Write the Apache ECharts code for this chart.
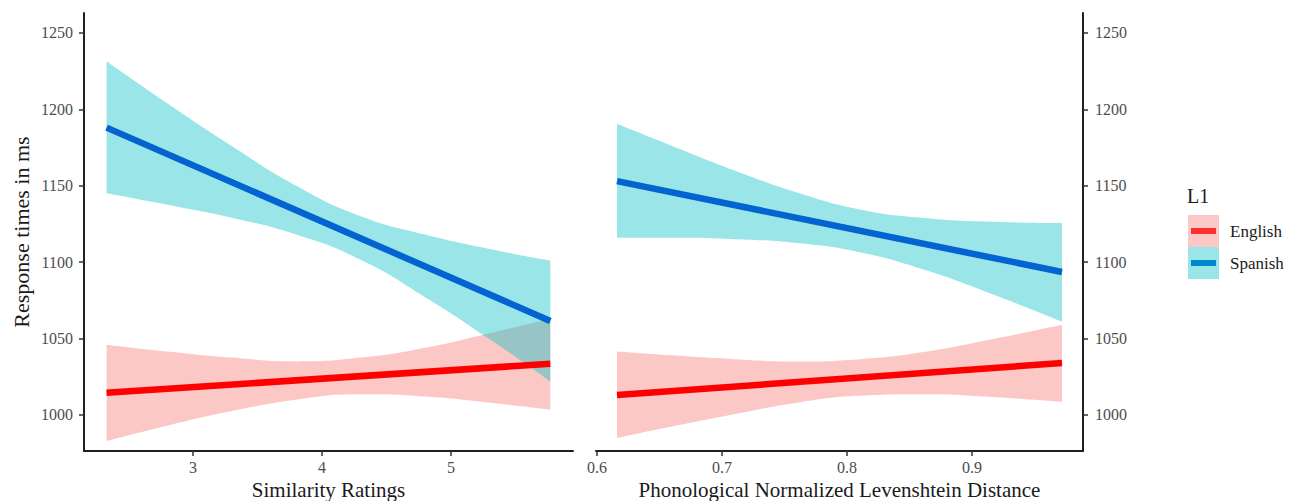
<!DOCTYPE html>
<html><head><meta charset="utf-8">
<script src="https://cdn.jsdelivr.net/npm/echarts@6/dist/echarts.min.js"></script>
<style>html,body{margin:0;padding:0;background:#fff}#c{width:1289px;height:501px}</style>
</head><body><div id="c"></div>
<script>
// ---- Data ----
const groups = ['English', 'Spanish'];
const yTicks = [1000, 1050, 1100, 1150, 1200, 1250];
const simTicks = [3, 4, 5];
const levTicks = [0.6, 0.7, 0.8, 0.9];

// Panel 1: Similarity Ratings
const simX = [2.33, 2.8, 3.3, 3.8, 4.3, 4.8, 5.3, 5.77];
const simFitX = [2.33, 5.77];
const spanishSimFit = [1188, 1061.5];
const spanishSimLower = [1145, 1137.5, 1129, 1118, 1101.5, 1077, 1049.5, 1022];
const spanishSimUpper = [1231.5, 1204, 1176, 1150, 1130, 1118, 1108.5, 1101];
const englishSimFit = [1014.5, 1033.5];
const englishSimLower = [983, 993, 1002.5, 1010, 1013.5, 1012, 1008, 1003.5];
const englishSimUpper = [1046, 1041.5, 1037.5, 1035, 1037.5, 1044, 1053.5, 1063];

// Panel 2: Phonological Normalized Levenshtein Distance
const levX = [0.616, 0.66, 0.71, 0.76, 0.81, 0.86, 0.91, 0.972];
const levFitX = [0.616, 0.972];
const spanishLevFit = [1153, 1093.5];
const spanishLevLower = [1116, 1116, 1115, 1112.5, 1106.5, 1095.5, 1081, 1061];
const spanishLevUpper = [1190.5, 1176, 1160, 1145.5, 1134.5, 1129, 1126.5, 1125.5];
const englishLevFit = [1013, 1034];
const englishLevLower = [985, 992.5, 1000.5, 1008, 1012.5, 1013.5, 1012, 1008.5];
const englishLevUpper = [1041.5, 1039, 1036.5, 1035, 1036.5, 1041, 1048.5, 1059];

// ---- Styles ----
const FONT = 'Liberation Serif';
const bandColor = {English: 'rgba(248,118,109,0.4)', Spanish: 'rgba(0,191,196,0.4)'};
const lineColor = {English: '#ff0000', Spanish: '#0263d1'};

function pairs(xs, ys) { return xs.map((x, i) => [x, ys[i]]); }
// value first, x second, so the stacked dimension is the y value
function vpairs(xs, ys) { return xs.map((x, i) => [ys[i], x]); }

function band(name, xs, lo, hi, xi, stackId) {
  return [
    {name, type: 'line', xAxisIndex: xi, yAxisIndex: xi, stack: stackId, data: vpairs(xs, lo),
     encode: {x: 1, y: 0},
     symbol: 'none', smooth: true, lineStyle: {opacity: 0}, silent: true, legendHoverLink: false},
    {name, type: 'line', xAxisIndex: xi, yAxisIndex: xi, stack: stackId,
     data: vpairs(xs, hi.map((v, i) => v - lo[i])), encode: {x: 1, y: 0},
     symbol: 'none', smooth: true, lineStyle: {opacity: 0},
     areaStyle: {color: bandColor[name], opacity: 1}, silent: true, legendHoverLink: false}
  ];
}
function fit(name, xs, ys, xi) {
  return {name, type: 'line', xAxisIndex: xi, yAxisIndex: xi, data: pairs(xs, ys),
    symbol: 'none', lineStyle: {color: lineColor[name], width: 6.5, cap: 'butt'}, silent: true};
}

const tickLabel = {color: '#4d4d4d', fontFamily: FONT, fontSize: 16};
const axisLine = {show: true, onZero: false, lineStyle: {color: '#1f1f1f', width: 2}};
const axisTickStyle = {color: '#333', width: 1.5};
const nameStyle = {color: '#1a1a1a', fontFamily: FONT, fontSize: 21};

const chart = echarts.init(document.getElementById('c'), null, {renderer: 'svg'});
chart.setOption({
  animation: false,
  backgroundColor: '#fff',
  title: {text: 'L1', left: 1187, top: 186, padding: 0,
    textStyle: {fontFamily: FONT, fontSize: 20, fontWeight: 'normal', color: '#1a1a1a'}},
  legend: {
    orient: 'vertical', left: 1188, top: 215, padding: 0, itemWidth: 31, itemHeight: 32, itemGap: 0,
    icon: 'rect', selectedMode: false,
    textStyle: {fontFamily: FONT, fontSize: 17, color: '#1a1a1a', padding: [0, 0, 0, 6]},
    data: groups.map(g => ({name: g, itemStyle: {color: bandColor[g], borderWidth: 0}}))
  },
  graphic: groups.map((g, i) => ({type: 'rect', left: 1191, top: 228 + 32 * i,
    shape: {width: 25, height: 6}, style: {fill: lineColor[g]}})),
  grid: [
    {left: 84, top: 13, width: 489, height: 438, outerBoundsMode: 'none', containLabel: false},
    {left: 596, top: 13, width: 487, height: 438, outerBoundsMode: 'none', containLabel: false}
  ],
  xAxis: [
    {gridIndex: 0, type: 'value', min: 2.155, max: 5.946,
     axisLine, splitLine: {show: false},
     axisTick: {show: true, length: 5, customValues: simTicks, lineStyle: axisTickStyle},
     axisLabel: Object.assign({customValues: simTicks, margin: 8}, tickLabel),
     name: 'Similarity Ratings', nameLocation: 'middle', nameGap: 25, nameTextStyle: nameStyle},
    {gridIndex: 1, type: 'value', min: 0.5992, max: 0.9888,
     axisLine, splitLine: {show: false},
     axisTick: {show: true, length: 5, customValues: levTicks, lineStyle: axisTickStyle},
     axisLabel: Object.assign({customValues: levTicks, margin: 8, formatter: v => v.toFixed(1)}, tickLabel),
     name: 'Phonological Normalized Levenshtein Distance', nameLocation: 'middle', nameGap: 25, nameTextStyle: nameStyle}
  ],
  yAxis: [
    {gridIndex: 0, type: 'value', position: 'left', min: 976.4, max: 1263,
     axisLine, splitLine: {show: false},
     axisTick: {show: true, length: 5, customValues: yTicks, lineStyle: axisTickStyle},
     axisLabel: Object.assign({customValues: yTicks, margin: 11, formatter: v => String(v)}, tickLabel),
     name: 'Response times in ms', nameLocation: 'middle', nameGap: 52, nameTextStyle: Object.assign({}, nameStyle, {fontSize: 22})},
    {gridIndex: 1, type: 'value', position: 'right', min: 976.4, max: 1263,
     axisLine, splitLine: {show: false},
     axisTick: {show: true, length: 5, customValues: yTicks, lineStyle: axisTickStyle},
     axisLabel: Object.assign({customValues: yTicks, margin: 12, formatter: v => String(v)}, tickLabel)}
  ],
  series: [
    ...band('English', simX, englishSimLower, englishSimUpper, 0, 'enSim'),
    fit('English', simFitX, englishSimFit, 0),
    ...band('Spanish', simX, spanishSimLower, spanishSimUpper, 0, 'esSim'),
    fit('Spanish', simFitX, spanishSimFit, 0),
    ...band('English', levX, englishLevLower, englishLevUpper, 1, 'enLev'),
    fit('English', levFitX, englishLevFit, 1),
    ...band('Spanish', levX, spanishLevLower, spanishLevUpper, 1, 'esLev'),
    fit('Spanish', levFitX, spanishLevFit, 1)
  ]
});
</script></body></html>
